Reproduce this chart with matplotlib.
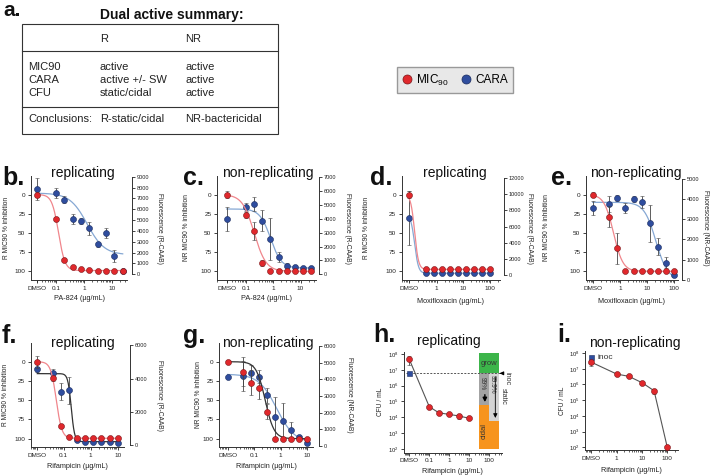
import numpy as np
import matplotlib
matplotlib.use("Agg")
import matplotlib.pyplot as plt
from matplotlib.patches import Rectangle
from matplotlib.lines import Line2D
from matplotlib.ticker import LogLocator, NullFormatter, NullLocator

plt.rcParams['font.family'] = ['Liberation Sans', 'DejaVu Sans']
plt.rcParams['mathtext.fontset'] = 'custom'
plt.rcParams['mathtext.rm'] = 'Liberation Sans'
plt.rcParams['mathtext.it'] = 'Liberation Sans:italic'
plt.rcParams['mathtext.bf'] = 'Liberation Sans:bold'

# ---------------- data (first value of each series = DMSO) ----------------
pa_conc = [0.098, 0.195, 0.39, 0.78, 1.56, 3.125, 6.25, 12.5, 25]
mox_conc = [0.39, 0.78, 1.56, 3.125, 6.25, 12.5, 25, 50, 100]
rif_conc = [0.039, 0.078, 0.156, 0.3125, 0.625, 1.25, 2.5, 5, 10]

# b. PA-824 replicating
b_mic = [0, 32, 85, 95, 96.5, 98, 99, 99, 99.5, 99]
b_mic_err = [3, 3, 2, 1, 1, 1, 0.5, 0.5, 0.5, 0.5]
b_cara = [7900, 7500, 6900, 5100, 4900, 4250, 2770, 3790, 1690, 300]
b_cara_err = [1000, 500, 350, 500, 300, 580, 250, 450, 550, 150]
b_mic_fit = (0, 99, 0.12, 3.7)        # top, bottom, IC50, hill
b_cara_fit = (7500, 1800, 1.3, 1.4)

# c. PA-824 non-replicating
c_mic = [0, 26.7, 47.5, 89.6, 100, 100, 100, 100, 100, 100]
c_mic_err = [5, 4, 12, 4, 1, 0.5, 0.5, 0.5, 0.5, 0.5]
c_cara = [3980, 4820, 5035, 3860, 2540, 1270, 620, 550, 450, 430]
c_cara_err = [840, 300, 500, 770, 1490, 350, 200, 120, 80, 80]
c_mic_fit = (0, 100, 0.2, 2.0)
c_cara_fit = (4700, 450, 0.8, 2.2)

# d. Moxifloxacin replicating
d_mic = [0, 97.5, 97.5, 97.5, 97.5, 97.5, 97, 97.5, 97.5, 97]
d_mic_err = [4, 1, 1, 1, 1, 1, 1, 1, 1, 1]
d_cara = [7090, 250, 250, 250, 250, 250, 250, 250, 250, 250]
d_cara_err = [3300, 60, 60, 60, 60, 60, 60, 60, 60, 60]
d_mic_fit = (0, 97.5, 0.15, 6)
d_cara_fit = (7500, 250, 0.15, 6)

# e. Moxifloxacin non-replicating
e_mic = [0, 28.9, 70, 100, 100, 100, 100, 100, 100, 100]
e_mic_err = [3, 13.7, 20, 1, 0.5, 0.5, 0.5, 0.5, 0.5, 0.5]
e_cara = [3580, 3750, 4050, 3580, 4015, 3850, 2800, 1640, 845, 235]
e_cara_err = [350, 400, 150, 250, 150, 300, 910, 420, 275, 80]
e_mic_fit = (0, 100, 0.56, 2.5)
e_cara_fit = (3850, 0, 21, 2)

# f. Rifampicin replicating
f_mic = [0, 21.6, 83.5, 97.4, 99.5, 99.5, 99.5, 99.5, 98.8, 98.8]
f_mic_err = [8, 3, 2, 2, 1, 1, 1, 1, 1, 1]
f_cara = [4560, 4360, 3210, 3290, 300, 200, 200, 200, 180, 140]
f_cara_err = [150, 200, 500, 800, 50, 50, 50, 50, 50, 50]
f_mic_fit = (0, 99.5, 0.053, 4.2)
f_cara_fit = (4300, 200, 0.19, 7)

# g. Rifampicin non-replicating
g_mic = [0, 13, 27.3, 34.6, 65, 100, 100, 100, 100, 101]
g_mic_err = [2, 19, 16, 14, 10, 1, 1, 1, 1, 1]
g_cara = [4150, 4210, 4350, 4150, 3050, 1720, 1500, 960, 520, 160]
g_cara_err = [0, 900, 500, 400, 450, 1200, 1050, 450, 150, 80]
g_mic_fit = (0, 100, 0.26, 2.6)
g_cara_fit = (4300, 200, 0.7, 1.3)

# h. CFU replicating
h_conc = [0.1, 0.3, 1, 3, 10]
h_cfu = [4.6e7, 4.6e4, 1.9e4, 1.5e4, 1.2e4, 8.5e3]
h_cfu_err = [2.5e7, 4e3, 2e3, 2e3, 4e3, 1e3]
h_inoc = 6e6

# i. CFU non-replicating
i_conc = [1, 3, 10, 30, 100]
i_cfu = [2.6e7, 4.6e6, 3.3e6, 1.3e6, 4e5, 1e2]
i_cfu_err = [1e7, 4e5, 3e5, 1e5, 1.5e5, 0]
i_inoc = 5.4e7

# ---------------- styles ----------------
RED, RED_E = '#e0282c', '#7a1518'
BLUE, BLUE_E = '#2f4d9e', '#1b2c5e'
RED_LINE, BLUE_LINE, BLACK_LINE = '#f0868c', '#86a8d4', '#333333'
TXT = '#222222'

W, H = 720, 476
fig = plt.figure(figsize=(7.2, 4.76), dpi=100)


def box(x0, y0, x1, y1):
    return [x0 / W, 1 - y1 / H, (x1 - x0) / W, (y1 - y0) / H]


def hill(x, top, bottom, mid, slope):
    return bottom + (top - bottom) / (1 + (x / mid) ** slope)


bg = fig.add_axes([0, 0, 1, 1])
bg.set_xlim(0, W)
bg.set_ylim(H, 0)
bg.axis('off')


def style_ticks(ax, size=4.6):
    ax.tick_params(which='major', direction='out', length=2.5, width=0.6,
                   labelsize=size, pad=1.5, colors=TXT)
    ax.tick_params(which='minor', direction='out', length=1.3, width=0.5, colors=TXT)


def dose_panel(lay, conc, mic, mic_err, cara, cara_err, mic_fit, cara_fit,
               mic_col, cara_col, xt, xlab, ylab, rlab, rmax, rstep):
    x0, y0, x1, y1 = lay['box']
    ax = fig.add_axes(box(x0, y0, x1, y1))
    ax2 = ax.twinx()
    ax.set_zorder(ax2.get_zorder() + 1)
    ax.patch.set_visible(False)
    ax.set_xscale('log')
    xs = np.array([lay['dmso']] + list(conc))
    xc = np.logspace(np.log10(lay['dmso']), np.log10(conc[-1]), 300)

    ax2.plot(xc, hill(xc, *cara_fit), color=cara_col, lw=0.9, zorder=1)
    ax2.errorbar(xs, cara, yerr=cara_err, fmt='o', ms=4.3, mfc=BLUE, mec=BLUE_E,
                 mew=0.4, ecolor='#444444', elinewidth=0.6, capsize=1.4,
                 capthick=0.6, zorder=2)
    ax.plot(xc, hill(xc, *mic_fit), color=mic_col, lw=0.9, zorder=2)
    ax.errorbar(xs, mic, yerr=mic_err, fmt='o', ms=4.3, mfc=RED, mec=RED_E,
                mew=0.4, ecolor='#444444', elinewidth=0.6, capsize=1.4,
                capthick=0.6, zorder=3)

    ax.set_xlim(*lay['xlim'])
    ax.set_ylim(*lay['ylim'])
    ax2.set_ylim(*lay['rlim'])
    ax.set_yticks([0, 25, 50, 75, 100])
    ax2.set_yticks(np.arange(0, rmax + 1, rstep))
    ticks = [lay['dmso']] + xt
    ax.set_xticks(ticks)
    ax.set_xticklabels(['DMSO'] + [('%g' % t) for t in xt])
    ax.xaxis.set_minor_locator(LogLocator(base=10, subs=np.arange(2, 10) * 1.0, numticks=30))
    ax.xaxis.set_minor_formatter(NullFormatter())

    for s in ['top', 'right']:
        ax.spines[s].set_visible(False)
    for s in ['top', 'left', 'bottom']:
        ax2.spines[s].set_visible(False)
    for a in (ax, ax2):
        for s in a.spines.values():
            s.set_linewidth(0.7)
            s.set_color('#333333')
    style_ticks(ax)
    style_ticks(ax2, 4.1)
    ax2.tick_params(axis='y', pad=1.0)
    ax2.spines['right'].set_position(('outward', lay['roff'] * 0.72))
    ax2.spines['right'].set_bounds(0, rmax)

    ax.set_xlabel(xlab, fontsize=5.2, va='center', color=TXT)
    ax.xaxis.set_label_coords(0.5, (y1 - lay['xlab_y']) / (y1 - y0))
    ax.set_ylabel(ylab, fontsize=4.8, va='center', color=TXT)
    ax.yaxis.set_label_coords((lay['ylab_x'] - x0) / (x1 - x0), 0.5)
    ax2.set_ylabel(rlab, fontsize=4.8, rotation=270, va='center', color=TXT)
    ax2.yaxis.set_label_coords((lay['rlab_x'] - x0) / (x1 - x0), 0.5)
    return ax


def cfu_panel(lay, conc, cfu, cfu_err, inoc, xt, xlab):
    x0, y0, x1, y1 = lay['box']
    ax = fig.add_axes(box(x0, y0, x1, y1))
    ax.patch.set_visible(False)
    ax.set_xscale('log')
    ax.set_yscale('log')
    xs = [lay['dmso']] + list(conc)
    ax.plot(xs, cfu, color='#555555', lw=0.8, zorder=2)
    ax.errorbar(xs, cfu, yerr=cfu_err, fmt='o', ms=4.3, mfc=RED, mec=RED_E,
                mew=0.4, ecolor='#444444', elinewidth=0.6, capsize=1.4,
                capthick=0.6, zorder=3)
    ax.plot([lay['dmso']], [inoc], marker='s', ms=3.6, mfc=BLUE, mec=BLUE_E,
            mew=0.4, ls='none', zorder=3)
    ax.set_xlim(*lay['xlim'])
    ax.set_ylim(*lay['ylim'])
    ax.set_yticks([10.0 ** k for k in range(2, 9)])
    ax.yaxis.set_minor_locator(NullLocator())
    ax.set_xticks([lay['dmso']] + xt)
    ax.set_xticklabels(['DMSO'] + [('%g' % t) for t in xt])
    ax.xaxis.set_minor_locator(LogLocator(base=10, subs=np.arange(2, 10) * 1.0, numticks=30))
    ax.xaxis.set_minor_formatter(NullFormatter())
    for s in ['top', 'right']:
        ax.spines[s].set_visible(False)
    for s in ax.spines.values():
        s.set_linewidth(0.7)
        s.set_color('#333333')
    style_ticks(ax)
    ax.tick_params(axis='y', labelsize=4.2)
    ax.set_xlabel(xlab, fontsize=5.2, va='center', color=TXT)
    ax.xaxis.set_label_coords(0.5, (y1 - lay['xlab_y']) / (y1 - y0))
    ax.set_ylabel('CFU / mL', fontsize=4.8, va='center', color=TXT)
    ax.yaxis.set_label_coords((lay['ylab_x'] - x0) / (x1 - x0), 0.5)
    return ax


# ---------------- layouts (pixel positions) ----------------
lay_b = dict(box=(31, 176, 127, 280), xlim=(10 ** -1.913, 10 ** 1.553), dmso=0.0196,
             ylim=(111.3, -24.1), rlim=(-526, 9077), roff=5,
             xlab_y=298, ylab_x=6, rlab_x=160)
lay_c = dict(box=(217, 176, 316, 280), xlim=(10 ** -2.061, 10 ** 1.565), dmso=0.0197,
             ylim=(111.3, -24.1), rlim=(-410, 7072), roff=2.5,
             xlab_y=298.5, ylab_x=187, rlab_x=347)
lay_d = dict(box=(401.7, 176, 500, 280), xlim=(10 ** -1.308, 10 ** 2.374), dmso=0.095,
             ylim=(111.3, -24.1), rlim=(-579, 12229), roff=4,
             xlab_y=301.7, ylab_x=367, rlab_x=530)
lay_e = dict(box=(586, 176, 678, 280), xlim=(10 ** -1.275, 10 ** 2.145), dmso=0.094,
             ylim=(111.3, -24.1), rlim=(-15, 5159), roff=3.7,
             xlab_y=301.7, ylab_x=547, rlab_x=705)
lay_f = dict(box=(30.7, 343, 124, 447), xlim=(10 ** -2.223, 10 ** 1.233), dmso=0.0105,
             ylim=(110.8, -24.3), rlim=(-120, 6145), roff=6,
             xlab_y=467, ylab_x=6, rlab_x=160)
lay_g = dict(box=(219.3, 343, 313, 447), xlim=(10 ** -2.31, 10 ** 1.212), dmso=0.0101,
             ylim=(110.8, -24.3), rlim=(-60, 6168), roff=6,
             xlab_y=467, ylab_x=198, rlab_x=350)
lay_h = dict(box=(404, 351.7, 501.7, 452.7), xlim=(10 ** -2.265, 10 ** 2.62), dmso=0.01,
             ylim=(10 ** 1.753, 10 ** 8.146), xlab_y=471.7, ylab_x=380)
lay_i = dict(box=(585, 351, 678.3, 450), xlim=(10 ** -1.253, 10 ** 2.435), dmso=0.1,
             ylim=(10 ** 1.83, 10 ** 8.13), xlab_y=470, ylab_x=562)

dose_panel(lay_b, pa_conc, b_mic, b_mic_err, b_cara, b_cara_err, b_mic_fit, b_cara_fit,
           RED_LINE, BLUE_LINE, [0.1, 1, 10], 'PA-824 (\u00b5g/mL)',
           'R MIC90 % inhibition', 'Fluorescence (R-CAAB)', 9000, 1000)
dose_panel(lay_c, pa_conc, c_mic, c_mic_err, c_cara, c_cara_err, c_mic_fit, c_cara_fit,
           RED_LINE, BLUE_LINE, [0.1, 1, 10], 'PA-824 (\u00b5g/mL)',
           'NR MIC90 % inhibition', 'Fluorescence (R-CAAB)', 7000, 1000)
dose_panel(lay_d, mox_conc, d_mic, d_mic_err, d_cara, d_cara_err, d_mic_fit, d_cara_fit,
           RED_LINE, BLUE_LINE, [1, 10, 100], 'Moxifloxacin (\u00b5g/mL)',
           'R MIC90 % inhibition', 'Fluorescence (R-CAAB)', 12000, 2000)
dose_panel(lay_e, mox_conc, e_mic, e_mic_err, e_cara, e_cara_err, e_mic_fit, e_cara_fit,
           RED_LINE, BLUE_LINE, [1, 10, 100], 'Moxifloxacin (\u00b5g/mL)',
           'NR MIC90 % inhibition', 'Fluorescence (NR-CAAB)', 5000, 1000)
dose_panel(lay_f, rif_conc, f_mic, f_mic_err, f_cara, f_cara_err, f_mic_fit, f_cara_fit,
           RED_LINE, BLACK_LINE, [0.1, 1, 10], 'Rifampicin (\u00b5g/mL)',
           'R MIC90 % inhibition', 'Fluorescence (R-CAAB)', 6000, 2000)
dose_panel(lay_g, rif_conc, g_mic, g_mic_err, g_cara, g_cara_err, g_mic_fit, g_cara_fit,
           BLACK_LINE, BLUE_LINE, [0.1, 1, 10], 'Rifampicin (\u00b5g/mL)',
           'NR MIC90 % inhibition', 'Fluorescence (NR-CAAB)', 6000, 1000)

ax_h = cfu_panel(lay_h, h_conc, h_cfu, h_cfu_err, h_inoc, [0.1, 1, 10, 100],
                 'Rifampicin (\u00b5g/mL)')
ax_i = cfu_panel(lay_i, i_conc, i_cfu, i_cfu_err, i_inoc, [1, 10, 100],
                 'Rifampicin (\u00b5g/mL)')

# h: kill / static / grow key
c0, c1, c2 = 31.6, 100, 316
ax_h.add_patch(Rectangle((c0, h_inoc), c2 - c0, 1.1e8 - h_inoc, fc='#3cb54a', ec='none', zorder=1))
ax_h.add_patch(Rectangle((c0, h_inoc / 100), c1 - c0, h_inoc - h_inoc / 100, fc='#a3a3a3', ec='none', zorder=1))
ax_h.add_patch(Rectangle((c1, h_inoc / 1000), c2 - c1, h_inoc - h_inoc / 1000, fc='#d4d4d4', ec='none', zorder=1))
ax_h.add_patch(Rectangle((c0, 100), c1 - c0, h_inoc / 100 - 100, fc='#f7941d', ec='none', zorder=1))
ax_h.add_patch(Rectangle((c1, 100), c2 - c1, h_inoc / 1000 - 100, fc='#f7941d', ec='none', zorder=1))
ax_h.text(100, 2.6e7, 'grow', fontsize=5.5, ha='center', va='center', color='#333333')
ax_h.text(45, 10 ** 6.1, '99%', fontsize=4.8, rotation=-90, ha='center', va='center', color='#333333')
ax_h.text(140, 10 ** 6.1, '99.9%', fontsize=4.8, rotation=-90, ha='center', va='center', color='#333333')
ax_h.text(56, 10 ** 3.1, 'cidal', fontsize=5.5, rotation=90, ha='center', va='center', color='#333333')
ax_h.annotate('', xy=(60, h_inoc / 100), xytext=(60, 10 ** 5.6),
              arrowprops=dict(arrowstyle='-|>', color='k', lw=1.0, mutation_scale=6))
ax_h.annotate('', xy=(200, h_inoc / 1000), xytext=(200, 10 ** 6.7),
              arrowprops=dict(arrowstyle='-|>', color='k', lw=0.6, mutation_scale=6))
ax_h.plot([0.007, 480], [h_inoc, h_inoc], ls=(0, (2, 1.5)), color='#555555', lw=0.7,
          clip_on=False, zorder=2)
ax_h.annotate('', xy=(330, h_inoc), xytext=(600, h_inoc), annotation_clip=False,
              arrowprops=dict(arrowstyle='-|>', color='k', lw=0.8, mutation_scale=5))
ax_h.text(484, 10 ** 5.3, 'static', fontsize=5.2, rotation=-90, ha='center', va='center',
          color='#333333', clip_on=False)
ax_h.text(767, 10 ** 6.45, 'inoc', fontsize=5.2, rotation=-90, ha='center', va='center',
          color='#333333', clip_on=False)

ax_i.text(0.18, 10 ** 7.72, 'inoc', fontsize=6, ha='left', va='center', color='#333333')

# ---------------- panel a: summary table ----------------
bg.text(3, 15.5, 'a.', fontsize=15, fontweight='bold', va='baseline', color='#111111')
bg.text(172, 15, 'Dual active summary:', fontsize=10, fontweight='bold', ha='center',
        va='center', color='#111111')
bg.add_patch(Rectangle((21.7, 24), 256.3, 110, fill=False, ec='#333333', lw=0.8))
bg.plot([21.7, 278], [50.5, 50.5], color='#333333', lw=0.8)
bg.plot([21.7, 278], [107, 107], color='#333333', lw=0.8)
tab_cols = [28, 100, 185]
tab_header = ['', 'R', 'NR']
tab_rows = [['MIC90', 'active', 'active'],
            ['CARA', 'active +/- SW', 'active'],
            ['CFU', 'static/cidal', 'active']]
tab_concl = ['Conclusions:', 'R-static/cidal', 'NR-bactericidal']
for cx, t in zip(tab_cols, tab_header):
    bg.text(cx, 38.5, t, fontsize=8, va='center', color=TXT)
for ry, row in zip([66.5, 80, 93], tab_rows):
    for cx, t in zip(tab_cols, row):
        bg.text(cx, ry, t, fontsize=8, va='center', color=TXT)
for cx, t in zip(tab_cols, tab_concl):
    bg.text(cx, 119.5, t, fontsize=8, va='center', color=TXT)

# legend
handles = [Line2D([], [], marker='o', ls='none', ms=6.5, mfc=RED, mec=RED_E, mew=0.5),
           Line2D([], [], marker='o', ls='none', ms=6.5, mfc=BLUE, mec=BLUE_E, mew=0.5)]
fig.legend(handles, ['MIC$_{90}$', 'CARA'], loc='center',
           bbox_to_anchor=(455 / W, 1 - 80 / H), ncol=2, fontsize=8.5, frameon=True,
           fancybox=False, edgecolor='#999999', facecolor='#e8e8e8', framealpha=1,
           handlelength=0.8, handletextpad=0.4, columnspacing=1.0, borderpad=0.45)

# panel letters and titles
letters = [('b.', 2, 185), ('c.', 183, 185), ('d.', 370, 185), ('e.', 551, 185),
           ('f.', 2, 343), ('g.', 183, 343), ('h.', 373, 342), ('i.', 557, 342)]
for t, x, y in letters:
    bg.text(x, y, t, fontsize=18, fontweight='bold', va='baseline', color='#111111')
titles = [('replicating', 83, 177), ('non-replicating', 268, 177),
          ('replicating', 455, 177), ('non-replicating', 636, 177),
          ('replicating', 83, 347), ('non-replicating', 268, 347),
          ('replicating', 449, 345), ('non-replicating', 635, 347)]
for t, x, y in titles:
    bg.text(x, y, t, fontsize=10, ha='center', va='baseline', color='#111111')

fig.savefig('out.png', dpi=100)
